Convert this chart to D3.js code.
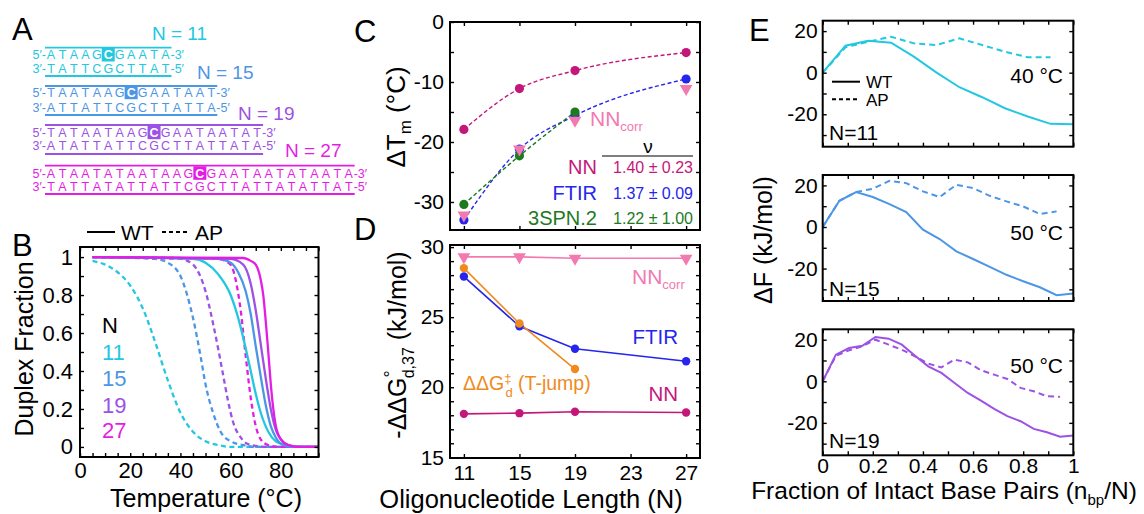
<!DOCTYPE html>
<html>
<head>
<meta charset="utf-8">
<script src="https://cdn.jsdelivr.net/npm/d3@7"></script>
<style>
  body { margin: 0; background: #fff; }
  svg { font-family: "Liberation Sans", Arial, Helvetica, sans-serif; }
</style>
</head>
<body>
<div id="chart"></div>
<script>
// ---- colours ----
const cN11 = "#22c8e0", cN15 = "#4c96e6", cN19 = "#9c52e4", cN27 = "#e41de4";
const cNN = "#c4177a", cFTIR = "#2525ee", c3SPN = "#1e7a1e", cCorr = "#f27ab0", cTjump = "#f08a1c";

// ---- panel A: sequences ----
const seqLengths = [11, 15, 19, 27];
const seqTop = ["ATAAGCGAATA", "TAATAAGCGAATAAT", "TATAATAAGCGAATAATAT", "ATAATATAATAAGCGAATAATATAATA"];
const seqBottom = ["TATTCGCTTAT", "ATTATTCGCTTATTA", "ATATTATTCGCTTATTATA", "TATTATATTATTCGCTTATTATATTAT"];
const seqColors = [cN11, cN15, cN19, cN27];

// ---- panel B: melting curves [T (°C), duplex fraction] ----
const tempTicks = [0,5,10,15,20,25,30,35,40,45,50,55,60,65,70,75,80,85,90,95];
const tempLabels = [0, 20, 40, 60, 80];
const fracTicks = [0,0.1,0.2,0.3,0.4,0.5,0.6,0.7,0.8,0.9,1];
const fracLabels = [0, 0.2, 0.4, 0.6, 0.8, 1];
const meltAP11 = [[5,0.98],[10,0.96],[15,0.92],[20,0.85],[25,0.73],[30,0.55],[35,0.35],[40,0.18],[45,0.08],[50,0.03],[55,0.01],[60,0],[95,0]];
const meltAP15 = [[5,1],[30,0.99],[35,0.97],[40,0.9],[45,0.68],[48,0.48],[50,0.33],[53,0.18],[56,0.08],[60,0.03],[65,0.01],[70,0],[95,0]];
const meltAP19 = [[5,1],[40,0.99],[45,0.96],[50,0.82],[53,0.65],[55,0.52],[57,0.38],[59,0.24],[61,0.13],[64,0.05],[68,0.01],[75,0],[95,0]];
const meltAP27 = [[5,1],[55,0.99],[60,0.96],[62,0.88],[64,0.72],[66,0.48],[68,0.26],[70,0.11],[72,0.04],[75,0.01],[80,0],[95,0]];
const meltWT11 = [[5,1],[45,0.99],[50,0.97],[55,0.91],[60,0.8],[63,0.68],[66,0.52],[68,0.4],[70,0.28],[72,0.18],[75,0.08],[78,0.03],[82,0.01],[88,0],[95,0]];
const meltWT15 = [[5,1],[55,0.99],[60,0.97],[63,0.92],[66,0.82],[68,0.7],[70,0.53],[72,0.37],[74,0.22],[76,0.11],[78,0.05],[81,0.01],[85,0],[95,0]];
const meltWT19 = [[5,1],[60,0.99],[65,0.96],[68,0.86],[70,0.72],[72,0.54],[74,0.36],[76,0.2],[78,0.09],[80,0.04],[83,0.01],[88,0],[95,0]];
const meltWT27 = [[5,1],[65,0.995],[68,0.98],[70,0.96],[72,0.88],[73,0.8],[74,0.66],[75,0.5],[76,0.33],[77,0.2],[78,0.11],[80,0.04],[83,0.01],[87,0],[95,0]];

// ---- panels C, D: vs oligo length ----
const lengthN = [11, 15, 19, 27];
const lengthTicks = [11, 15, 19, 23, 27];
const dTmNN = [-17.9, -11.1, -8.1, -5.1];
const dTmFTIR = [-33.0, -21.2, -15.6, -9.5];
const dTm3SPN = [-30.4, -22.3, -15.0];
const dTmCorr = [-32.2, -21.2, -16.4, -11.1];
const dTmTicks = [-30,-25,-20,-15,-10,-5,0];
const dTmLabels = [-30, -20, -10, 0];
const nuRows = [["NN", "1.40 ± 0.23", cNN], ["FTIR", "1.37 ± 0.09", cFTIR], ["3SPN.2", "1.22 ± 1.00", c3SPN]];

const ddgCorr = [29.3, 29.3, 29.2, 29.2];
const ddgFTIR = [27.9, 24.35, 22.75, 21.85];
const ddgTjump = [28.5, 24.55, 21.3];
const ddgNN = [18.1, 18.15, 18.25, 18.2];
const ddgTicks = [15,16,17,18,19,20,21,22,23,24,25,26,27,28,29,30];
const ddgLabels = [15, 20, 25, 30];

// ---- panel E: free energy profiles, value at n_bp = i ----
const fe11WT = [0, 13, 15.4, 14.4, 7.7, 0, -7, -11.8, -17.1, -21.1, -24.6, -24.8];
const fe11AP = [0, 12.2, 14.9, 17.3, 14.1, 13.3, 16.5, 13.3, 10.1, 7.4, 7.4];
const fe15WT = [0, 12.6, 16.8, 14.4, 11, 7.2, -1.3, -5.8, -11.7, -15.4, -19.2, -23, -26.1, -29, -32.8, -32];
const fe15AP = [0, 12.6, 16.8, 18.4, 22.2, 21.1, 17.1, 14.4, 20.3, 18.7, 15, 12.3, 9.9, 6.2, 7.5];
const fe19WT = [0, 12.8, 16, 17.1, 21.3, 20.5, 17.6, 12.3, 7.2, 4, -0.8, -5.6, -9.3, -13.3, -16.8, -19.2, -22.9, -24.5, -26.7, -26.1];
const fe19AP = [0, 12.3, 14.9, 16.8, 20, 17.6, 15.2, 12, 8.5, 6.7, 10.4, 9.1, 5.3, 3.2, 1.1, -3.2, -4.8, -7.2, -7.5];
const fracBpTicks = [0,0.1,0.2,0.3,0.4,0.5,0.6,0.7,0.8,0.9,1];
const fracBpLabels = [0, 0.2, 0.4, 0.6, 0.8, 1];
const feTicks = [-30,-20,-10,0,10,20];
const feLabels = [-20, 0, 20];

const W = 1144, H = 514;
const svg = d3.select("#chart").append("svg").attr("width", W).attr("height", H);

// framed box with inward ticks on all four sides
function frame(x, y, o) {
  const g = svg.append("g");
  const [left, right] = x.range(), [bottom, top] = y.range();
  const fs = o.fs || 21;
  const add = (axis, tr, vals, labels, pad) => {
    const a = g.append("g").attr("transform", tr)
      .call(axis.tickValues(vals).tickSizeInner(-4).tickSizeOuter(0).tickPadding(pad)
        .tickFormat(d => labels && labels.includes(d) ? String(d) : ""));
    a.attr("font-size", fs).attr("font-family", null);
    a.select(".domain").remove();
    a.selectAll("line").attr("stroke", "#000").attr("stroke-width", 1.4);
    a.selectAll("text").filter(function () { return this.textContent === ""; }).remove();
  };
  add(d3.axisBottom(x), `translate(0,${bottom})`, o.xt, o.xl, o.xpad || 5);
  add(d3.axisTop(x), `translate(0,${top})`, o.xt, null, 5);
  add(d3.axisLeft(y), `translate(${left},0)`, o.yt, o.yl, o.ypad || 6);
  add(d3.axisRight(y), `translate(${right},0)`, o.yt, null, 5);
  g.append("rect").attr("x", left).attr("y", top).attr("width", right - left).attr("height", bottom - top)
    .attr("fill", "none").attr("stroke", "#000").attr("stroke-width", 2);
  return g;
}

function txt(x, y, s, o = {}) {
  return svg.append("text").attr("x", x).attr("y", y).text(s)
    .attr("font-size", o.fs || 21).attr("fill", o.fill || "#000")
    .attr("text-anchor", o.anchor || "start");
}

// panel letters
[["A", 12, 40], ["B", 12, 256], ["C", 354, 42], ["D", 354, 240], ["E", 749, 41]]
  .forEach(([s, x, y]) => txt(x, y, s, { fs: 31 }));

// ================= A =================
const rowY = [[47.7, 55, 69, 76, 33, 152], [86, 92.7, 107.3, 115, 71.7, 197],
              [125, 132.7, 146, 154, 112.7, 238], [165.7, 173.3, 186.7, 194, 150, 285]];
const step = 11.45, x0 = 51;
seqLengths.forEach((n, k) => {
  const [yo, yt, yb, yu, yl, xl] = rowY[k];
  const col = seqColors[k];
  const last = x0 + (n - 1) * step;
  txt(xl, yl + 7, "N = " + n, { fs: 19, fill: col });
  [yo, yu].forEach(yy => svg.append("line").attr("x1", x0 - 6).attr("x2", last + 6)
    .attr("y1", yy).attr("y2", yy).attr("stroke", col).attr("stroke-width", 1.8));
  const mid = (n - 1) / 2;
  svg.append("rect").attr("x", x0 + mid * step - 6.5).attr("y", yt - 7).attr("width", 13).attr("height", 13.5).attr("fill", col);
  [[seqTop[k], yt, "5′-", "-3′"], [seqBottom[k], yb, "3′-", "-5′"]].forEach(([s, yy, pre, suf], r) => {
    txt(x0 - 5, yy + 4.4, pre, { fs: 12.5, fill: col, anchor: "end" });
    txt(last + 5, yy + 4.4, suf, { fs: 12.5, fill: col });
    s.split("").forEach((ch, i) => {
      const hl = r === 0 && i === mid;
      txt(x0 + i * step, yy + 4.4, ch, { fs: 12.5, fill: hl ? "#fff" : col, anchor: "middle" })
        .attr("font-weight", hl ? "bold" : null);
    });
  });
});

// ================= B =================
const xB = d3.scaleLinear().domain([0, 95]).range([80, 318.5]);
const yB = d3.scaleLinear().domain([-0.053, 1.053]).range([457, 247]);
const lineB = d3.line().x(d => xB(d[0])).y(d => yB(d[1])).curve(d3.curveMonotoneX);
[[meltAP11, cN11], [meltAP15, cN15], [meltAP19, cN19], [meltAP27, cN27]].forEach(([d, c]) =>
  svg.append("path").attr("d", lineB(d)).attr("fill", "none").attr("stroke", c)
    .attr("stroke-width", 2.3).attr("stroke-dasharray", "5,3.5"));
[[meltWT11, cN11], [meltWT15, cN15], [meltWT19, cN19], [meltWT27, cN27]].forEach(([d, c]) =>
  svg.append("path").attr("d", lineB(d)).attr("fill", "none").attr("stroke", c).attr("stroke-width", 2.3));
frame(xB, yB, { xt: tempTicks, xl: tempLabels, yt: fracTicks, yl: fracLabels, fs: 22, xpad: 5, ypad: 7 });
txt(206, 507, "Temperature (°C)", { fs: 25, anchor: "middle" });
txt(0, 0, "Duplex Fraction", { fs: 25, anchor: "middle" }).attr("transform", "translate(33,349) rotate(-90)");
svg.append("line").attr("x1", 87).attr("x2", 115).attr("y1", 232).attr("y2", 232).attr("stroke", "#000").attr("stroke-width", 2);
txt(121, 240, "WT", { fs: 21 });
svg.append("line").attr("x1", 162).attr("x2", 190).attr("y1", 232).attr("y2", 232).attr("stroke", "#000")
  .attr("stroke-width", 2).attr("stroke-dasharray", "4,3");
txt(195, 240, "AP", { fs: 21 });
txt(102, 333, "N", { fs: 22 });
seqLengths.forEach((n, k) => txt(102, [360, 386, 413, 438][k], String(n), { fs: 22, fill: seqColors[k] }));

// ================= C =================
const xC = d3.scaleLinear().domain([10, 28]).range([450, 700]);
const yC = d3.scaleLinear().domain([-34.67, 0]).range([230, 22]);
const lineC = d3.line().x(d => xC(d[0])).y(d => yC(d[1])).curve(d3.curveMonotoneX);
const pts = (xs, ys) => ys.map((v, i) => [xs[i], v]);
[[dTmNN, cNN], [dTmFTIR, cFTIR], [dTm3SPN, c3SPN]].forEach(([d, c]) =>
  svg.append("path").attr("d", lineC(pts(lengthN, d))).attr("fill", "none").attr("stroke", c)
    .attr("stroke-width", 1.4).attr("stroke-dasharray", "4,2.5"));
const tri = d3.symbol().type(d3.symbolTriangle).size(70);
function dots(x, y, xs, ys, c, r = 4.6) {
  svg.append("g").selectAll("circle").data(pts(xs, ys)).join("circle")
    .attr("cx", d => x(d[0])).attr("cy", d => y(d[1])).attr("r", r).attr("fill", c);
}
function tris(x, y, xs, ys, c) {
  svg.append("g").selectAll("path").data(pts(xs, ys)).join("path")
    .attr("d", tri).attr("transform", d => `translate(${x(d[0])},${y(d[1])}) rotate(180)`).attr("fill", c);
}
dots(xC, yC, lengthN, dTmNN, cNN);
dots(xC, yC, lengthN, dTmFTIR, cFTIR);
dots(xC, yC, lengthN, dTm3SPN, c3SPN);
tris(xC, yC, lengthN, dTmCorr, cCorr);
frame(xC, yC, { xt: lengthTicks, xl: null, yt: dTmTicks, yl: dTmLabels });
const tm = txt(0, 0, "ΔT", { fs: 26, anchor: "middle" }).attr("transform", "translate(405,117) rotate(-90)");
tm.append("tspan").attr("font-size", 17).attr("dy", 6).text("m");
tm.append("tspan").attr("dy", -6).text(" (°C)");
const corrC = txt(590, 126, "NN", { fs: 21, fill: cCorr });
corrC.append("tspan").attr("font-size", 13).attr("dy", 5).text("corr");
txt(648, 153, "ν", { fs: 19, anchor: "middle" });
svg.append("line").attr("x1", 602).attr("x2", 693).attr("y1", 156).attr("y2", 156).attr("stroke", "#000").attr("stroke-width", 1.2);
nuRows.forEach(([name, val, c], i) => {
  const yy = 174 + i * 25.5;
  txt(597, yy, name, { fs: 20, fill: c, anchor: "end" });
  txt(693, yy - 1, val, { fs: 16, fill: c, anchor: "end" });
});

// ================= D =================
const yD = d3.scaleLinear().domain([14.95, 30.15]).range([458, 245]);
const lineD = d3.line().x(d => xC(d[0])).y(d => yD(d[1]));
[[ddgCorr, cCorr], [ddgNN, cNN], [ddgFTIR, cFTIR], [ddgTjump, cTjump]].forEach(([d, c]) =>
  svg.append("path").attr("d", lineD(pts(lengthN, d))).attr("fill", "none").attr("stroke", c).attr("stroke-width", 1.6));
dots(xC, yD, lengthN, ddgNN, cNN, 4.2);
dots(xC, yD, lengthN, ddgFTIR, cFTIR, 4.2);
dots(xC, yD, lengthN, ddgTjump, cTjump, 4.2);
tris(xC, yD, lengthN, ddgCorr, cCorr);
frame(xC, yD, { xt: lengthTicks, xl: lengthTicks, yt: ddgTicks, yl: ddgLabels, xpad: 7 });
txt(531, 508, "Oligonucleotide Length (N)", { fs: 25.5, anchor: "middle" });
const gl = txt(0, 0, "-ΔΔG", { fs: 25, anchor: "middle" }).attr("transform", "translate(406,345) rotate(-90)");
gl.append("tspan").attr("font-size", 18).attr("dy", -9).text("°");
gl.append("tspan").attr("font-size", 16).attr("dx", -8).attr("dy", 17).text("d,37");
gl.append("tspan").attr("dy", -8).text(" (kJ/mol)");
const corrD = txt(632, 284, "NN", { fs: 21, fill: cCorr });
corrD.append("tspan").attr("font-size", 13).attr("dy", 5).text("corr");
txt(678, 344, "FTIR", { fs: 20.5, fill: cFTIR, anchor: "end" });
txt(678, 401, "NN", { fs: 20.5, fill: cNN, anchor: "end" });
const tj = txt(463, 390, "ΔΔG", { fs: 19.5, fill: cTjump });
tj.append("tspan").attr("font-size", 13).attr("dy", -7).text("‡");
tj.append("tspan").attr("font-size", 13).attr("dx", -6).attr("dy", 14).text("d");
tj.append("tspan").attr("dy", -7).text(" (T-jump)");

// ================= E =================
const xE = d3.scaleLinear().domain([0, 1]).range([822.7, 1073.3]);
const eTops = [20.7, 175, 329.3];
const eSets = [[fe11WT, fe11AP, 11, cN11, "40 °C"], [fe15WT, fe15AP, 15, cN15, "50 °C"], [fe19WT, fe19AP, 19, cN19, "50 °C"]];
eSets.forEach(([wt, ap, n, c, temp], k) => {
  const yE = d3.scaleLinear().domain([-35.6, 25]).range([eTops[k] + 126, eTops[k]]);
  const lineE = d3.line().x((d, i) => xE(i / n)).y(d => yE(d));
  svg.append("path").attr("d", lineE(ap)).attr("fill", "none").attr("stroke", c)
    .attr("stroke-width", 2).attr("stroke-dasharray", "6,4");
  svg.append("path").attr("d", lineE(wt)).attr("fill", "none").attr("stroke", c).attr("stroke-width", 2);
  frame(xE, yE, { xt: fracBpTicks, xl: k === 2 ? fracBpLabels : null, yt: feTicks, yl: feLabels, xpad: 3, ypad: 5 });
  txt(1063, [82.5, 239.5, 372.5][k], temp, { fs: 21, anchor: "end" });
  txt(829, [139.5, 295.5, 447.5][k], "N=" + n, { fs: 21 });
});
svg.append("line").attr("x1", 832).attr("x2", 860).attr("y1", 81.7).attr("y2", 81.7).attr("stroke", "#000").attr("stroke-width", 2);
txt(866, 88, "WT", { fs: 17 });
svg.append("line").attr("x1", 832).attr("x2", 860).attr("y1", 99.3).attr("y2", 99.3).attr("stroke", "#000")
  .attr("stroke-width", 2).attr("stroke-dasharray", "4,3");
txt(866, 106, "AP", { fs: 17 });
const fx = txt(944, 499, "Fraction of Intact Base Pairs (n", { fs: 24.5, anchor: "middle" });
fx.append("tspan").attr("font-size", 15).attr("dy", 6).text("bp");
fx.append("tspan").attr("dy", -6).text("/N)");
txt(0, 0, "ΔF (kJ/mol)", { fs: 25, anchor: "middle" }).attr("transform", "translate(772,240) rotate(-90)");
</script>
</body>
</html>
